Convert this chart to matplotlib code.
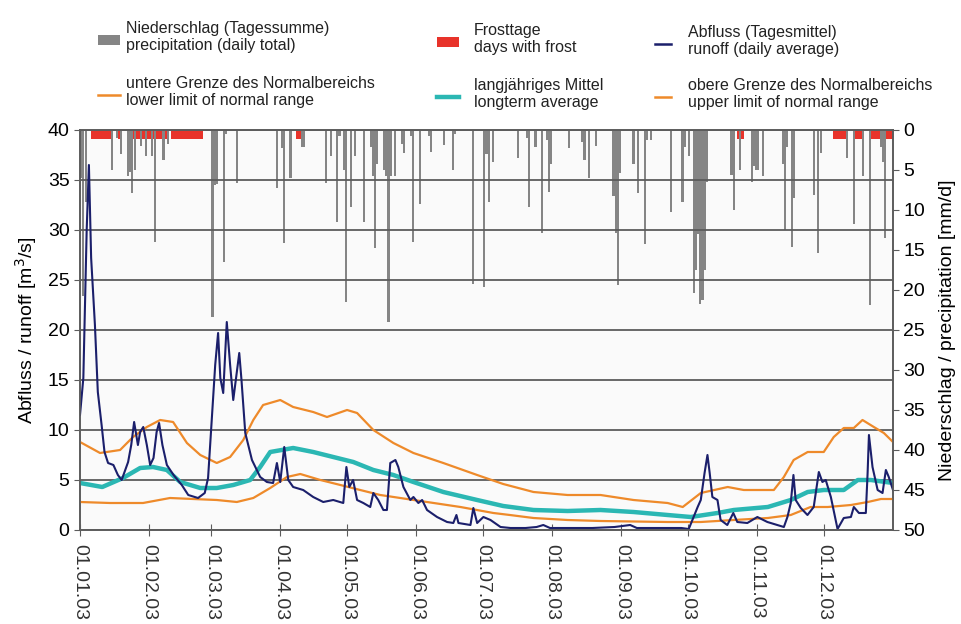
import numpy as np
import pandas as pd
import matplotlib
matplotlib.use('Agg')
import matplotlib.pyplot as plt
from matplotlib.lines import Line2D
from matplotlib.patches import Rectangle

plt.rcParams['font.family'] = ['Liberation Sans', 'DejaVu Sans']

# day of year (0 = 01.01.03), runoff in m3/s
runoff_pts = [
    (0, 11.5), (1.5, 15.2), (3, 30.0), (4, 36.5), (5, 27.2), (6.7, 20.5), (8, 13.8),
    (9.7, 10.5), (11, 7.8), (12.6, 6.7), (15, 6.5), (17, 5.5), (18.7, 5.0), (20, 5.8),
    (21.6, 6.8), (23, 8.5), (24.3, 10.8), (26, 8.5), (27, 9.8), (28.4, 10.3), (30, 8.5),
    (31.5, 6.5), (33, 7.2), (34.4, 9.8), (35.5, 10.7), (37, 8.5), (39, 6.5), (42, 5.5),
    (45.7, 4.5), (48.6, 3.5), (53, 3.2), (56, 3.7), (57.5, 5.2), (59, 10.5), (60.7, 16.5),
    (62, 19.7), (63, 15.2), (64.3, 13.7), (65.9, 20.8), (67.4, 16.5), (68.8, 13.0),
    (71.5, 17.7), (72.5, 15.0), (74.2, 9.7), (77.2, 7.0), (80.9, 5.3), (83.9, 4.8),
    (86.7, 4.7), (88.4, 6.7), (89.9, 4.8), (91.7, 8.3), (93.5, 5.0), (95.7, 4.3),
    (100.2, 4.0), (104.7, 3.3), (109.2, 2.8), (113.7, 3.0), (118.2, 2.7), (119.6, 6.3),
    (120.9, 4.3), (122.6, 5.0), (124.4, 3.0), (127.2, 2.7), (130.3, 2.3), (131.7, 3.7),
    (133.9, 3.0), (136.2, 2.0), (137.8, 2.0), (139.3, 6.7), (141.6, 7.0), (142.9, 6.3),
    (145.2, 4.3), (148.3, 3.0), (149.7, 3.3), (151.9, 2.7), (153.6, 3.0), (155.8, 2.0),
    (160.3, 1.3), (164.8, 0.8), (167.6, 0.7), (169.0, 1.5), (169.9, 0.7), (175.3, 0.5),
    (176.6, 2.2), (178.3, 0.7), (181.1, 1.3), (184.3, 1.0), (188.8, 0.3), (193.3, 0.2),
    (200, 0.2), (205, 0.3), (208, 0.5), (211, 0.2), (220, 0.2), (230, 0.2), (240, 0.3),
    (247, 0.5), (250, 0.2), (260, 0.2), (270, 0.2), (273.3, 0.1), (277.3, 2.3),
    (278.7, 3.0), (280.4, 5.7), (281.7, 7.5), (282.7, 5.7), (283.9, 3.3), (286.2, 3.0),
    (287.6, 1.0), (290.6, 0.5), (293.3, 1.7), (295.1, 0.8), (299.6, 0.7), (304.1, 1.3),
    (308.6, 0.8), (313.1, 0.5), (316, 0.3), (317.6, 1.3), (319.1, 2.7), (320.3, 5.5),
    (321.3, 3.0), (323.6, 2.2), (326.6, 1.5), (329.4, 2.3), (331.7, 5.8), (333.3, 4.8),
    (334.8, 5.0), (337.1, 3.3), (340.1, 0.1), (342.9, 1.2), (346.1, 1.3), (347.4, 2.3),
    (349.7, 1.7), (352.8, 1.7), (353.6, 5.7), (354.2, 9.5), (355.8, 6.3), (358.1, 4.0),
    (360.3, 3.7), (361.8, 6.0), (363.1, 5.3), (365, 4.0),
]

upper_pts = [
    (0, 8.8), (9, 7.7), (18, 8.0), (23.8, 9.3), (30, 10.3), (36, 11.0), (41.8, 10.8),
    (48, 8.7), (54, 7.5), (61.4, 6.7), (67.4, 7.3), (73.3, 9.0), (77.8, 11.0), (82.2, 12.5),
    (89.9, 13.0), (95.7, 12.3), (104.7, 11.8), (110.9, 11.3), (119.9, 12.0), (124.4, 11.7),
    (131.7, 10.0), (140.7, 8.7), (149.7, 7.7), (163.1, 6.7), (178.3, 5.5), (190, 4.6),
    (203.6, 3.8), (218.9, 3.5), (233.7, 3.5), (248.5, 3.0), (263.8, 2.7), (270.6, 2.3),
    (278.7, 3.7), (290.8, 4.3), (298, 4.0), (311.5, 4.0), (316, 5.3), (320.4, 7.0),
    (326.7, 7.8), (333.9, 7.8), (338.4, 9.3), (342.9, 10.2), (347.4, 10.2), (351.3, 11.0),
    (356.4, 10.3), (360.9, 9.7), (365, 8.8),
]

mean_pts = [
    (0, 4.7), (10, 4.3), (19.3, 5.2), (27, 6.2), (32.8, 6.3), (39, 6.0), (45, 4.8),
    (54, 4.2), (61.4, 4.2), (68.8, 4.5), (76.4, 5.0), (80.9, 6.3), (85.4, 7.8), (95.7, 8.2),
    (104.7, 7.8), (113.7, 7.3), (122.7, 6.8), (131.7, 6.0), (140.7, 5.5), (149.7, 4.8),
    (163.1, 3.8), (178.3, 3.0), (190, 2.4), (203.6, 2.0), (218.9, 1.9), (233.7, 2.0),
    (248.5, 1.8), (263.8, 1.5), (274.2, 1.3), (286.2, 1.7), (293.5, 2.0), (308.8, 2.3),
    (319.1, 3.0), (326.7, 3.8), (333.9, 4.0), (342.9, 4.0), (349.2, 5.0), (355.1, 5.0),
    (365, 4.7),
]

lower_pts = [
    (0, 2.8), (13.5, 2.7), (28.3, 2.7), (40.4, 3.2), (50.8, 3.1), (61.4, 3.0), (70.4, 2.8),
    (77.8, 3.2), (85.4, 4.2), (92.9, 5.3), (98.9, 5.6), (107.9, 5.0), (116.9, 4.5),
    (125.8, 4.0), (134.8, 3.5), (143.8, 3.2), (155.8, 2.8), (170.8, 2.3), (185.6, 1.7),
    (193, 1.5), (203.6, 1.2), (218.9, 1.0), (233.7, 0.9), (263.8, 0.8), (278.7, 0.8),
    (293.5, 1.0), (308.8, 1.2), (319.1, 1.5), (328, 2.3), (335.7, 2.3), (346.1, 2.5),
    (353.7, 2.8), (359.6, 3.1), (365, 3.1),
]

# daily precipitation in mm/d
precip_pts = [
    (0, 6.0), (1, 20.8), (2, 9.0), (14, 5.0), (16, 1.0), (18, 3.0), (21, 5.8), (22, 5.2),
    (23, 7.9), (24, 5.0), (27, 2.0), (29, 3.3), (32, 3.2), (33, 14.0), (37, 3.8), (39, 1.8),
    (59, 23.4), (60, 6.9), (61, 6.7), (64, 16.5), (65, 0.5), (70, 6.6), (88, 7.3), (90, 2.3),
    (91, 14.1), (94, 6.0), (99, 2.1), (100, 2.1), (110, 6.6), (112, 3.3), (115, 11.5),
    (116, 0.7), (118, 5.0), (119, 21.5), (121, 9.6), (123, 3.3), (127, 11.5), (130, 2.1),
    (131, 5.8), (132, 14.8), (133, 4.2), (136, 5.0), (137, 5.8), (138, 24.0), (139, 5.8),
    (141, 5.8), (144, 1.7), (145, 2.9), (148, 0.8), (149, 14.0), (152, 9.2), (156, 0.8),
    (157, 2.7), (163, 1.9), (167, 5.0), (168, 0.5), (176, 19.2), (181, 19.6), (182, 3.0),
    (183, 9.0), (185, 4.0), (196, 3.5), (200, 1.0), (201, 9.6), (204, 2.1), (207, 12.9),
    (209, 1.2), (210, 7.7), (211, 4.2), (219, 2.3), (225, 1.5), (226, 3.8), (228, 6.0),
    (231, 2.0), (239, 8.3), (240, 12.9), (241, 19.4), (242, 5.4), (248, 4.2), (250, 7.9),
    (253, 14.2), (254, 1.2), (256, 1.2), (265, 10.2), (270, 9.0), (271, 2.1), (273, 3.3),
    (275, 20.4), (276, 17.5), (277, 13.0), (278, 21.7), (279, 21.2), (280, 17.5), (281, 6.5),
    (292, 5.6), (293, 10.0), (296, 5.0), (301, 6.5), (302, 4.5), (303, 5.0), (304, 5.0),
    (306, 5.8), (315, 4.2), (316, 12.5), (317, 2.1), (319, 14.6), (320, 8.5), (329, 8.1),
    (331, 15.4), (332, 2.9), (344, 3.5), (347, 11.7), (351, 5.8), (354, 21.9), (359, 2.1),
    (360, 4.0), (361, 13.5),
]

# frost periods (first day, last day)
frost_spans = [(5, 13), (17, 17), (24, 26), (28, 39), (41, 54), (97, 99), (295, 297),
               (338, 344), (347, 351), (355, 358), (362, 364)]
frost_mark = 1.1

start = pd.Timestamp('2003-01-01')
months = pd.date_range('2003-01-01', periods=12, freq='MS')
month_pos = (months - start).days
month_labels = months.strftime('%d.%m.%y')

c_runoff = '#1b1f6b'
c_limit = '#ee8a2a'
c_mean = '#2bb7b3'
c_precip = '#858585'
c_frost = '#e8332a'
c_grid = '#5c5c5c'

fig = plt.figure(figsize=(9.61, 6.24), dpi=100)
ax = fig.add_axes([80 / 961, 1 - 530 / 624, 813 / 961, 400 / 624])
ax2 = ax.twinx()
ax.set_zorder(2)
ax2.set_zorder(1)
ax.patch.set_visible(False)
ax2.patch.set_visible(True)
ax2.set_facecolor('#fafafa')

frost_days = [d for a, b in frost_spans for d in range(a, b + 1)]
ax2.bar(frost_days, [frost_mark] * len(frost_days), width=1.0, align='edge',
        color=c_frost, linewidth=0)
pd_, pv = zip(*precip_pts)
ax2.bar(np.array(pd_) + 0.5, pv, width=0.95, color=c_precip, linewidth=0)
ax2.set_ylim(50, 0)
ax2.set_yticks(range(0, 51, 5))
ax2.tick_params(axis='y', labelsize=14, direction='out', length=4, color=c_grid)
ax2.set_ylabel('Niederschlag / precipitation [mm/d]', fontsize=14, labelpad=10)

for pts, col, lw in [(upper_pts, c_limit, 1.6), (lower_pts, c_limit, 1.6),
                     (mean_pts, c_mean, 3.2), (runoff_pts, c_runoff, 1.5)]:
    dx, dv = zip(*pts)
    ax.plot(dx, dv, color=col, lw=lw, solid_joinstyle='round')

ax.set_xlim(0, 365)
ax.set_ylim(0, 40)
ax.set_yticks(range(0, 41, 5))
ax.yaxis.grid(True, color=c_grid, lw=1.3)
ax.set_axisbelow(True)
ax.tick_params(axis='y', labelsize=14, direction='out', length=4, color=c_grid)
ax.set_ylabel('Abfluss / runoff [m$^3$/s]', fontsize=14, labelpad=6)
ax.set_xticks(month_pos)
ax.set_xticklabels(month_labels, rotation=-90, fontsize=14, color='#333333')
ax.tick_params(axis='x', direction='inout', length=8, color=c_grid, pad=6)
for a in (ax, ax2):
    for s in a.spines.values():
        s.set_color(c_grid)
        s.set_linewidth(1.2)

# legend, drawn by hand in pixel positions
W, H = 961, 624
legend_items = [
    ('patch', c_precip, 98, 40, 'Niederschlag (Tagessumme)\nprecipitation (daily total)', 126),
    ('line', c_limit, 98, 95, 'untere Grenze des Normalbereichs\nlower limit of normal range', 126),
    ('patch', c_frost, 437, 42, 'Frosttage\ndays with frost', 474),
    ('thick', c_mean, 437, 97, 'langjähriges Mittel\nlongterm average', 474),
    ('line', c_runoff, 655, 44, 'Abfluss (Tagesmittel)\nrunoff (daily average)', 688),
    ('line', c_limit, 655, 97, 'obere Grenze des Normalbereichs\nupper limit of normal range', 688),
]
for kind, col, hx, hy, txt, tx in legend_items:
    if kind == 'patch':
        fig.add_artist(Rectangle(((hx) / W, 1 - (hy + 5) / H), 22 / W, 10 / H,
                                 transform=fig.transFigure, color=col, lw=0))
    else:
        lw = 3.2 if kind == 'thick' else 1.8
        w = 22 if hx < 600 else 16
        fig.add_artist(Line2D([hx / W, (hx + w) / W], [1 - hy / H, 1 - hy / H],
                              transform=fig.transFigure, color=col, lw=lw))
    fig.text(tx / W, 1 - (hy - 3) / H, txt, fontsize=11.5, va='center', ha='left',
             linespacing=1.2, color='#222222')

fig.savefig('out.png', dpi=100, facecolor='white')
